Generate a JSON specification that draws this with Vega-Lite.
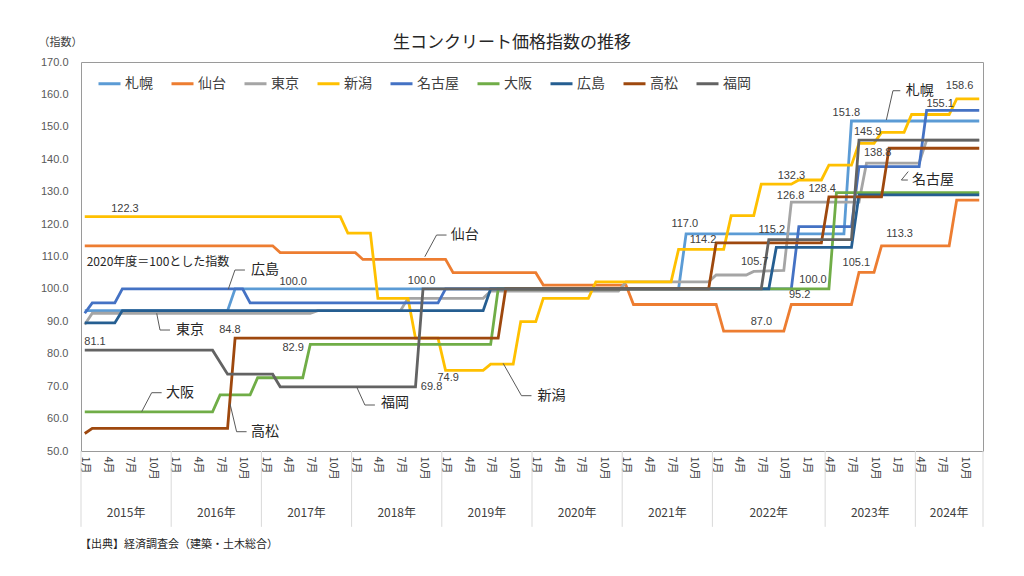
{
  "$schema": "https://vega.github.io/schema/vega-lite/v6.json",
  "width": 902,
  "height": 389,
  "autosize": {"type": "none"},
  "padding": {"left": 81, "top": 62, "right": 41, "bottom": 125},
  "background": "white",
  "config": {
    "view": {"stroke": "#9a9a9a", "strokeWidth": 1},
    "font": "Noto Sans CJK JP"
  },
  "title": {
    "text": "生コンクリート価格指数の推移",
    "font": "Noto Sans CJK JP",
    "fontSize": 17,
    "fontWeight": "normal",
    "color": "#262626",
    "anchor": "middle",
    "frame": "group",
    "dx": -20,
    "offset": -16
  },
  "datasets": {
    "series": [
      {"s": "札幌", "m": 0, "v": 93.3}, {"s": "札幌", "m": 19, "v": 93.3}, {"s": "札幌", "m": 20, "v": 100}, {"s": "札幌", "m": 79, "v": 100}, {"s": "札幌", "m": 80, "v": 117.0}, {"s": "札幌", "m": 101, "v": 117.0}, {"s": "札幌", "m": 102, "v": 151.8}, {"s": "札幌", "m": 119, "v": 151.8},
      {"s": "仙台", "m": 0, "v": 113.3}, {"s": "仙台", "m": 25, "v": 113.3}, {"s": "仙台", "m": 26, "v": 111.2}, {"s": "仙台", "m": 36, "v": 111.2}, {"s": "仙台", "m": 37, "v": 109.1}, {"s": "仙台", "m": 48, "v": 109.1}, {"s": "仙台", "m": 49, "v": 105.0}, {"s": "仙台", "m": 60, "v": 105.0}, {"s": "仙台", "m": 61, "v": 101.2}, {"s": "仙台", "m": 72, "v": 101.2}, {"s": "仙台", "m": 73, "v": 95.2}, {"s": "仙台", "m": 84, "v": 95.2}, {"s": "仙台", "m": 85, "v": 87.0}, {"s": "仙台", "m": 93, "v": 87.0}, {"s": "仙台", "m": 94, "v": 95.2}, {"s": "仙台", "m": 102, "v": 95.2}, {"s": "仙台", "m": 103, "v": 105.1}, {"s": "仙台", "m": 105, "v": 105.1}, {"s": "仙台", "m": 106, "v": 113.3}, {"s": "仙台", "m": 115, "v": 113.3}, {"s": "仙台", "m": 116, "v": 127.4}, {"s": "仙台", "m": 119, "v": 127.4},
      {"s": "東京", "m": 0, "v": 89.0}, {"s": "東京", "m": 1, "v": 92.5}, {"s": "東京", "m": 30, "v": 92.5}, {"s": "東京", "m": 31, "v": 93.3}, {"s": "東京", "m": 42, "v": 93.3}, {"s": "東京", "m": 43, "v": 97.1}, {"s": "東京", "m": 53, "v": 97.1}, {"s": "東京", "m": 54, "v": 99.3}, {"s": "東京", "m": 71, "v": 99.3}, {"s": "東京", "m": 72, "v": 102.2}, {"s": "東京", "m": 83, "v": 102.2}, {"s": "東京", "m": 84, "v": 104.3}, {"s": "東京", "m": 88, "v": 104.3}, {"s": "東京", "m": 89, "v": 105.4}, {"s": "東京", "m": 93, "v": 105.7}, {"s": "東京", "m": 94, "v": 126.8}, {"s": "東京", "m": 103, "v": 126.8}, {"s": "東京", "m": 104, "v": 138.8}, {"s": "東京", "m": 111, "v": 138.8}, {"s": "東京", "m": 112, "v": 145.9}, {"s": "東京", "m": 119, "v": 145.9},
      {"s": "新潟", "m": 0, "v": 122.3}, {"s": "新潟", "m": 34, "v": 122.3}, {"s": "新潟", "m": 35, "v": 117.2}, {"s": "新潟", "m": 38, "v": 117.2}, {"s": "新潟", "m": 39, "v": 97.1}, {"s": "新潟", "m": 43, "v": 97.1}, {"s": "新潟", "m": 44, "v": 84.8}, {"s": "新潟", "m": 47, "v": 84.8}, {"s": "新潟", "m": 48, "v": 74.9}, {"s": "新潟", "m": 53, "v": 74.9}, {"s": "新潟", "m": 54, "v": 76.8}, {"s": "新潟", "m": 57, "v": 76.8}, {"s": "新潟", "m": 58, "v": 89.9}, {"s": "新潟", "m": 60, "v": 89.9}, {"s": "新潟", "m": 61, "v": 97.1}, {"s": "新潟", "m": 67, "v": 97.1}, {"s": "新潟", "m": 68, "v": 102.2}, {"s": "新潟", "m": 78, "v": 102.2}, {"s": "新潟", "m": 79, "v": 112.2}, {"s": "新潟", "m": 85, "v": 112.2}, {"s": "新潟", "m": 86, "v": 122.6}, {"s": "新潟", "m": 89, "v": 122.6}, {"s": "新潟", "m": 90, "v": 132.3}, {"s": "新潟", "m": 94, "v": 132.3}, {"s": "新潟", "m": 95, "v": 133.6}, {"s": "新潟", "m": 98, "v": 133.6}, {"s": "新潟", "m": 99, "v": 138.2}, {"s": "新潟", "m": 102, "v": 138.2}, {"s": "新潟", "m": 103, "v": 144.9}, {"s": "新潟", "m": 105, "v": 144.9}, {"s": "新潟", "m": 106, "v": 148.3}, {"s": "新潟", "m": 109, "v": 148.3}, {"s": "新潟", "m": 110, "v": 153.8}, {"s": "新潟", "m": 115, "v": 153.8}, {"s": "新潟", "m": 116, "v": 158.6}, {"s": "新潟", "m": 119, "v": 158.6},
      {"s": "名古屋", "m": 0, "v": 92.5}, {"s": "名古屋", "m": 1, "v": 95.7}, {"s": "名古屋", "m": 4, "v": 95.7}, {"s": "名古屋", "m": 5, "v": 100}, {"s": "名古屋", "m": 21, "v": 100}, {"s": "名古屋", "m": 22, "v": 95.7}, {"s": "名古屋", "m": 47, "v": 95.7}, {"s": "名古屋", "m": 48, "v": 100}, {"s": "名古屋", "m": 94, "v": 100}, {"s": "名古屋", "m": 95, "v": 119.2}, {"s": "名古屋", "m": 102, "v": 119.2}, {"s": "名古屋", "m": 103, "v": 137.7}, {"s": "名古屋", "m": 111, "v": 137.7}, {"s": "名古屋", "m": 112, "v": 155.1}, {"s": "名古屋", "m": 119, "v": 155.1},
      {"s": "大阪", "m": 0, "v": 62.1}, {"s": "大阪", "m": 17, "v": 62.1}, {"s": "大阪", "m": 18, "v": 67.3}, {"s": "大阪", "m": 22, "v": 67.3}, {"s": "大阪", "m": 23, "v": 72.6}, {"s": "大阪", "m": 29, "v": 72.6}, {"s": "大阪", "m": 30, "v": 82.9}, {"s": "大阪", "m": 54, "v": 82.9}, {"s": "大阪", "m": 55, "v": 100}, {"s": "大阪", "m": 99, "v": 100}, {"s": "大阪", "m": 100, "v": 129.7}, {"s": "大阪", "m": 119, "v": 129.7},
      {"s": "広島", "m": 0, "v": 89.5}, {"s": "広島", "m": 4, "v": 89.5}, {"s": "広島", "m": 5, "v": 93.3}, {"s": "広島", "m": 53, "v": 93.3}, {"s": "広島", "m": 54, "v": 100}, {"s": "広島", "m": 91, "v": 100}, {"s": "広島", "m": 92, "v": 112.8}, {"s": "広島", "m": 102, "v": 112.8}, {"s": "広島", "m": 103, "v": 129.0}, {"s": "広島", "m": 119, "v": 129.0},
      {"s": "高松", "m": 0, "v": 55.4}, {"s": "高松", "m": 1, "v": 57.0}, {"s": "高松", "m": 19, "v": 57.0}, {"s": "高松", "m": 20, "v": 84.8}, {"s": "高松", "m": 55, "v": 84.8}, {"s": "高松", "m": 56, "v": 100}, {"s": "高松", "m": 83, "v": 100}, {"s": "高松", "m": 84, "v": 114.2}, {"s": "高松", "m": 98, "v": 114.2}, {"s": "高松", "m": 99, "v": 128.4}, {"s": "高松", "m": 106, "v": 128.4}, {"s": "高松", "m": 107, "v": 143.4}, {"s": "高松", "m": 119, "v": 143.4},
      {"s": "福岡", "m": 0, "v": 81.1}, {"s": "福岡", "m": 17, "v": 81.1}, {"s": "福岡", "m": 19, "v": 73.7}, {"s": "福岡", "m": 25, "v": 73.7}, {"s": "福岡", "m": 26, "v": 69.8}, {"s": "福岡", "m": 44, "v": 69.8}, {"s": "福岡", "m": 45, "v": 100}, {"s": "福岡", "m": 90, "v": 100}, {"s": "福岡", "m": 91, "v": 115.2}, {"s": "福岡", "m": 102, "v": 115.2}, {"s": "福岡", "m": 103, "v": 145.9}, {"s": "福岡", "m": 119, "v": 145.9}
    ],
    "values": [
      {"t": "122.3", "m": 5.35, "v": 124.55}, {"t": "100.0", "m": 27.73, "v": 102.04}, {"t": "84.8", "m": 19.31, "v": 87.32}, {"t": "81.1", "m": 1.36, "v": 83.71}, {"t": "82.9", "m": 27.73, "v": 81.68}, {"t": "100.0", "m": 44.81, "v": 102.53}, {"t": "74.9", "m": 48.34, "v": 72.42}, {"t": "69.8", "m": 46.14, "v": 69.65},
      {"t": "117.0", "m": 79.82, "v": 119.93}, {"t": "114.2", "m": 82.25, "v": 115.08}, {"t": "132.3", "m": 94.01, "v": 134.7}, {"t": "126.8", "m": 93.9, "v": 128.66}, {"t": "128.4", "m": 98.1, "v": 130.8}, {"t": "115.2", "m": 91.4, "v": 118.3}, {"t": "105.7", "m": 89.13, "v": 108.2}, {"t": "100.0", "m": 96.88, "v": 102.6}, {"t": "95.2", "m": 95.11, "v": 98.12}, {"t": "87.0", "m": 90.02, "v": 89.88}, {"t": "105.1", "m": 102.65, "v": 107.9}, {"t": "113.3", "m": 108.41, "v": 116.93},
      {"t": "151.8", "m": 101.32, "v": 154.41}, {"t": "145.9", "m": 104.16, "v": 148.55}, {"t": "138.8", "m": 105.49, "v": 141.83}, {"t": "155.1", "m": 113.8, "v": 157.1}, {"t": "158.6", "m": 116.39, "v": 162.58}
    ],
    "names": [
      {"t": "仙台", "m": 50.56, "v": 116.62}, {"t": "広島", "m": 23.97, "v": 105.83}, {"t": "東京", "m": 13.99, "v": 87.32}, {"t": "大阪", "m": 12.66, "v": 67.98}, {"t": "高松", "m": 23.97, "v": 55.95}, {"t": "福岡", "m": 41.26, "v": 64.71}, {"t": "新潟", "m": 62.09, "v": 67.06}, {"t": "札幌", "m": 111.1, "v": 161.2}, {"t": "名古屋", "m": 112.84, "v": 133.59}
    ],
    "leaders": [
      {"id": "仙台", "k": 0, "m": 48.13, "v": 116.62}, {"id": "仙台", "k": 1, "m": 46.8, "v": 116.62}, {"id": "仙台", "k": 2, "m": 45.24, "v": 109.93},
      {"id": "広島", "k": 0, "m": 21.31, "v": 105.83}, {"id": "広島", "k": 1, "m": 19.98, "v": 105.83}, {"id": "広島", "k": 2, "m": 19.09, "v": 99.88},
      {"id": "東京", "k": 0, "m": 11.34, "v": 87.32}, {"id": "東京", "k": 1, "m": 10.01, "v": 87.32}, {"id": "東京", "k": 2, "m": 9.57, "v": 92.47},
      {"id": "大阪", "k": 0, "m": 10.23, "v": 67.98}, {"id": "大阪", "k": 1, "m": 8.9, "v": 67.98}, {"id": "大阪", "k": 2, "m": 7.57, "v": 62.12},
      {"id": "高松", "k": 0, "m": 21.53, "v": 55.95}, {"id": "高松", "k": 1, "m": 20.2, "v": 55.95}, {"id": "高松", "k": 2, "m": 19.31, "v": 64.71},
      {"id": "福岡", "k": 0, "m": 38.6, "v": 64.19}, {"id": "福岡", "k": 1, "m": 37.27, "v": 64.19}, {"id": "福岡", "k": 2, "m": 36.16, "v": 69.83},
      {"id": "新潟", "k": 0, "m": 59.43, "v": 67.06}, {"id": "新潟", "k": 1, "m": 58.1, "v": 67.06}, {"id": "新潟", "k": 2, "m": 55.66, "v": 77.05},
      {"id": "札幌", "k": 0, "m": 108.5, "v": 161.14}, {"id": "札幌", "k": 1, "m": 107.52, "v": 161.14}, {"id": "札幌", "k": 2, "m": 106.64, "v": 152.1},
      {"id": "名古屋", "k": 0, "m": 109.55, "v": 136.2}, {"id": "名古屋", "k": 1, "m": 108.64, "v": 133.59}, {"id": "名古屋", "k": 2, "m": 109.5, "v": 133.59}
    ],
    "years": [
      {"t": "2015年", "m": 5.5, "v": 30.9}, {"t": "2016年", "m": 17.5, "v": 30.9}, {"t": "2017年", "m": 29.5, "v": 30.9}, {"t": "2018年", "m": 41.5, "v": 30.9}, {"t": "2019年", "m": 53.5, "v": 30.9}, {"t": "2020年", "m": 65.5, "v": 30.9}, {"t": "2021年", "m": 77.5, "v": 30.9}, {"t": "2022年", "m": 91, "v": 30.9}, {"t": "2023年", "m": 104.5, "v": 30.9}, {"t": "2024年", "m": 115, "v": 30.9}
    ],
    "seps": [
      {"m": -0.5, "v": 50, "v2": 26.6}, {"m": 11.5, "v": 50, "v2": 26.6}, {"m": 23.5, "v": 50, "v2": 26.6}, {"m": 35.5, "v": 50, "v2": 26.6}, {"m": 47.5, "v": 50, "v2": 26.6}, {"m": 59.5, "v": 50, "v2": 26.6}, {"m": 71.5, "v": 50, "v2": 26.6}, {"m": 83.5, "v": 50, "v2": 26.6}, {"m": 98.5, "v": 50, "v2": 26.6}, {"m": 110.5, "v": 50, "v2": 26.6}, {"m": 119.5, "v": 50, "v2": 26.6}
    ],
    "notes": [
      {"t": "2020年度＝100とした指数", "m": 0.26, "v": 108.39}
    ],
    "source": [
      {"t": "【出典】経済調査会（建築・土木総合）", "m": -0.63, "v": 21.0}
    ]
  },
  "encoding": {
    "x": {
      "field": "m", "type": "quantitative",
      "scale": {"domain": [-0.5, 119.5], "nice": false, "zero": false},
      "axis": {
        "values": [0, 3, 6, 9, 12, 15, 18, 21, 24, 27, 30, 33, 36, 39, 42, 45, 48, 51, 54, 57, 60, 63, 66, 69, 72, 75, 78, 81, 84, 87, 90, 93, 96, 99, 102, 105, 108, 111, 114, 117],
        "labelExpr": "((datum.value % 12) + 1) + '月'",
        "labelAngle": 90, "labelAlign": "left", "labelBaseline": "middle",
        "labelFont": "Noto Sans CJK JP", "labelFontSize": 11, "labelColor": "#404040",
        "labelPadding": 5, "labelOverlap": false, "labelFlush": false, "labelBound": false,
        "ticks": false, "domain": false, "grid": false, "title": null
      }
    },
    "y": {
      "field": "v", "type": "quantitative",
      "scale": {"domain": [50, 170], "nice": false, "zero": false},
      "axis": {
        "values": [50, 60, 70, 80, 90, 100, 110, 120, 130, 140, 150, 160, 170],
        "format": ".1f",
        "labelFont": "Liberation Sans", "labelFontSize": 11, "labelColor": "#595959",
        "labelPadding": 13, "ticks": false, "domain": false, "grid": false,
        "title": "（指数）", "titleAngle": 0, "titleX": -21, "titleY": -20,
        "titleAlign": "center", "titleBaseline": "middle",
        "titleFont": "Noto Sans CJK JP", "titleFontSize": 11, "titleFontWeight": "normal", "titleColor": "#404040"
      }
    }
  },
  "layer": [
    {
      "data": {"name": "seps"},
      "mark": {"type": "rule", "color": "#d9d9d9", "strokeWidth": 1},
      "encoding": {"y2": {"field": "v2"}}
    },
    {
      "data": {"name": "series"},
      "mark": {"type": "line", "strokeWidth": 2.8, "strokeCap": "butt"},
      "encoding": {
        "color": {
          "field": "s", "type": "nominal",
          "scale": {
            "domain": ["札幌", "仙台", "東京", "新潟", "名古屋", "大阪", "広島", "高松", "福岡"],
            "range": ["#5B9BD5", "#ED7D31", "#A5A5A5", "#FFC000", "#4472C4", "#70AD47", "#255E91", "#9E480E", "#636363"]
          },
          "legend": {
            "orient": "none", "legendX": 16, "legendY": 9, "direction": "horizontal", "title": null,
            "symbolType": "stroke", "symbolSize": 484, "symbolStrokeWidth": 3,
            "labelFont": "Noto Sans CJK JP", "labelFontSize": 14, "labelColor": "#404040",
            "labelOffset": 3, "columnPadding": 12, "padding": 0
          }
        },
        "order": {"field": "m"}
      }
    },
    {
      "data": {"name": "leaders"},
      "mark": {"type": "line", "color": "#595959", "strokeWidth": 1},
      "encoding": {"detail": {"field": "id"}, "order": {"field": "k"}}
    },
    {
      "data": {"name": "values"},
      "mark": {"type": "text", "font": "Liberation Sans", "fontSize": 11, "color": "#404040", "align": "center", "baseline": "middle"},
      "encoding": {"text": {"field": "t"}}
    },
    {
      "data": {"name": "names"},
      "mark": {"type": "text", "font": "Noto Sans CJK JP", "fontSize": 14, "color": "#262626", "align": "center", "baseline": "middle"},
      "encoding": {"text": {"field": "t"}}
    },
    {
      "data": {"name": "notes"},
      "mark": {"type": "text", "font": "Noto Sans CJK JP", "fontSize": 12, "color": "#262626", "align": "left", "baseline": "middle"},
      "encoding": {"text": {"field": "t"}}
    },
    {
      "data": {"name": "years"},
      "mark": {"type": "text", "font": "Noto Sans CJK JP", "fontSize": 12, "color": "#404040", "align": "center", "baseline": "middle"},
      "encoding": {"text": {"field": "t"}}
    },
    {
      "data": {"name": "source"},
      "mark": {"type": "text", "font": "Noto Sans CJK JP", "fontSize": 11, "color": "#262626", "align": "left", "baseline": "middle"},
      "encoding": {"text": {"field": "t"}}
    }
  ]
}
